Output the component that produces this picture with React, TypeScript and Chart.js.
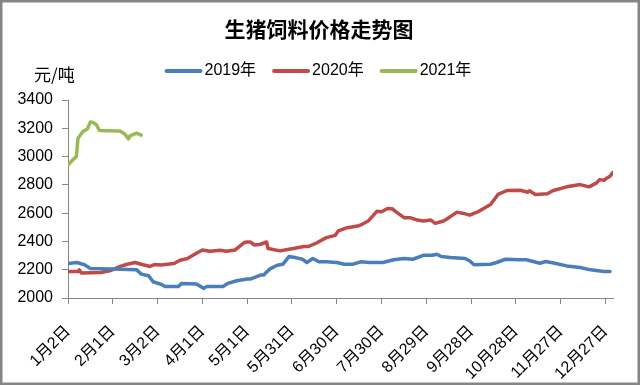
import React, { useEffect, useRef } from "react";
import { Chart, registerables } from "chart.js";

Chart.register(...registerables);

const TITLE = "生猪饲料价格走势图";
const UNIT = "元/吨";

// x ticks every 30 days starting at Jan 2
const X_TICK_LABELS = [
  "1月2日", "2月1日", "3月2日", "4月1日", "5月1日", "5月31日", "6月30日",
  "7月30日", "8月29日", "9月28日", "10月28日", "11月27日", "12月27日",
];
const X_STEP = 30;
const X_MAX = 365;
const Y_MIN = 2000;
const Y_MAX = 3400;
const Y_STEP = 200;

const SERIES_NAMES = ["2019年", "2020年", "2021年"];
const SERIES_COLORS = ["#4A7EBB", "#BE4B48", "#98B954"];

// day offset from Jan 2
const DAYS_2019 = [0, 6, 11, 15, 35, 46, 49, 54, 57, 63, 65, 74, 76, 86, 91, 93, 104, 107, 113, 120, 122, 129, 131, 135, 140, 144, 148, 153, 157, 160, 164, 168, 173, 180, 185, 191, 196, 202, 211, 218, 225, 231, 238, 244, 247, 250, 256, 266, 269, 272, 283, 287, 293, 302, 307, 316, 320, 326, 334, 343, 350, 359, 363];
const PRICE_2019 = [2244, 2251, 2235, 2209, 2204, 2199, 2169, 2157, 2115, 2094, 2082, 2082, 2103, 2099, 2068, 2082, 2082, 2103, 2122, 2134, 2134, 2162, 2162, 2204, 2232, 2239, 2293, 2284, 2274, 2251, 2279, 2256, 2256, 2251, 2239, 2239, 2256, 2251, 2251, 2270, 2279, 2274, 2302, 2302, 2309, 2293, 2286, 2279, 2262, 2235, 2239, 2251, 2274, 2270, 2270, 2246, 2258, 2246, 2227, 2216, 2199, 2188, 2188];

const DAYS_2020 = [0, 7, 7.5, 9, 22, 28, 35, 39, 45, 49, 55, 58, 62, 71, 75, 80, 86, 90, 95, 102, 106, 112, 118, 120, 122, 125, 129, 133, 134, 142, 148, 151, 158, 161, 167, 173, 179, 181, 187, 194, 197, 201, 207, 210, 214, 217, 220, 225, 229, 234, 238, 243, 246, 249, 251.5, 254, 260.5, 265, 269, 274, 283, 288, 294, 303, 308, 309, 313, 321, 325, 334, 343, 349, 354, 356, 359, 361, 363, 365];
const PRICE_2020 = [2188, 2188, 2199, 2176, 2181, 2192, 2223, 2237, 2251, 2239, 2223, 2237, 2234, 2244, 2267, 2279, 2317, 2340, 2331, 2338, 2331, 2340, 2392, 2396, 2396, 2375, 2380, 2396, 2350, 2333, 2345, 2350, 2364, 2364, 2392, 2427, 2443, 2474, 2497, 2509, 2521, 2544, 2614, 2610, 2633, 2631, 2607, 2568, 2568, 2551, 2544, 2551, 2528, 2537, 2544, 2561, 2607, 2598, 2586, 2607, 2661, 2732, 2760, 2762, 2748, 2758, 2732, 2737, 2760, 2786, 2802, 2786, 2814, 2837, 2832, 2849, 2861, 2889];

const DAYS_2021 = [0, 3, 5.6, 6.7, 10, 13, 15, 17, 19, 21, 33, 35, 38, 40.5, 41.5, 46, 49];
const PRICE_2021 = [2940, 2975, 3000, 3130, 3177, 3195, 3245, 3240, 3225, 3185, 3180, 3180, 3160, 3125, 3147, 3166, 3152];

const SERIES_DAYS = [DAYS_2019, DAYS_2020, DAYS_2021];
const SERIES_PRICES = [PRICE_2019, PRICE_2020, PRICE_2021];

const LATIN = "'Liberation Sans', 'Noto Sans CJK SC', sans-serif";
const CJK = "'Noto Sans CJK SC', sans-serif";
const AXIS_COLOR = "#868686";

const decorPlugin = {
  id: "decor",
  afterDraw(chart: any) {
    const ctx = chart.ctx as CanvasRenderingContext2D;
    ctx.save();
    // outer border
    ctx.strokeStyle = "#858585";
    ctx.lineWidth = 2.5;
    ctx.strokeRect(1.25, 1.25, chart.width - 2.5, chart.height - 2.5);
    // title
    ctx.fillStyle = "#000";
    ctx.textBaseline = "middle";
    ctx.textAlign = "center";
    ctx.font = `bold 21px ${CJK}`;
    ctx.fillText(TITLE, 319, 29);
    // unit
    ctx.textAlign = "left";
    ctx.font = `17px ${CJK}`;
    ctx.fillText(UNIT, 34, 75);
    // legend
    ctx.font = `16px ${LATIN}`;
    let x = 166.5;
    const y = 71;
    chart.data.datasets.forEach((ds: any) => {
      ctx.strokeStyle = ds.borderColor;
      ctx.lineWidth = 4;
      ctx.lineCap = "round";
      ctx.beginPath();
      ctx.moveTo(x, y);
      ctx.lineTo(x + 34, y);
      ctx.stroke();
      ctx.fillStyle = "#000";
      ctx.fillText(ds.label, x + 38, y);
      x += 38 + ctx.measureText(ds.label).width + 18;
    });
    ctx.restore();
  },
};

export default function App() {
  const ref = useRef<HTMLCanvasElement>(null);
  useEffect(() => {
    if (!ref.current) return;
    const datasets = SERIES_NAMES.map((name, i) => ({
      label: name,
      data: SERIES_DAYS[i].map((d, j) => ({ x: d, y: SERIES_PRICES[i][j] })),
      borderColor: SERIES_COLORS[i],
      backgroundColor: SERIES_COLORS[i],
      borderWidth: 3.5,
      pointRadius: 0,
      tension: 0,
      borderJoinStyle: "round" as const,
      borderCapStyle: "round" as const,
    }));
    const chart = new Chart(ref.current, {
      type: "line",
      data: { datasets },
      options: {
        animation: false,
        responsive: false,
        devicePixelRatio: 1,
        layout: { padding: { top: 100, right: 27, bottom: 0, left: 0 } },
        plugins: {
          legend: { display: false },
          title: { display: false },
          tooltip: { enabled: false },
        },
        scales: {
          x: {
            type: "linear",
            min: 0,
            max: X_MAX,
            afterBuildTicks: (axis: any) => {
              axis.ticks = X_TICK_LABELS.map((_, i) => ({ value: i * X_STEP }));
            },
            afterFit: (axis: any) => {
              axis.height = 87;
            },
            ticks: {
              autoSkip: false,
              maxRotation: 45,
              minRotation: 45,
              padding: 18,
              color: "#000",
              font: { size: 16, family: LATIN },
              callback: (v: any) => X_TICK_LABELS[Math.round(Number(v) / X_STEP)] ?? "",
            },
            grid: { drawOnChartArea: false, drawTicks: true, tickLength: 6, color: AXIS_COLOR },
            border: { color: AXIS_COLOR, width: 1 },
          },
          y: {
            min: Y_MIN,
            max: Y_MAX,
            afterFit: (axis: any) => {
              axis.width = 68;
            },
            ticks: {
              stepSize: Y_STEP,
              padding: 9,
              color: "#000",
              font: { size: 16, family: LATIN },
              callback: (v: any) => String(v),
            },
            grid: { drawOnChartArea: false, drawTicks: true, tickLength: 6, color: AXIS_COLOR },
            border: { color: AXIS_COLOR, width: 1 },
          },
        },
      },
      plugins: [decorPlugin],
    });
    return () => chart.destroy();
  }, []);
  return (
    <div style={{ position: "absolute", left: 0, top: 0, width: 640, height: 385, background: "#fff" }}>
      <canvas ref={ref} width={640} height={385} />
    </div>
  );
}
